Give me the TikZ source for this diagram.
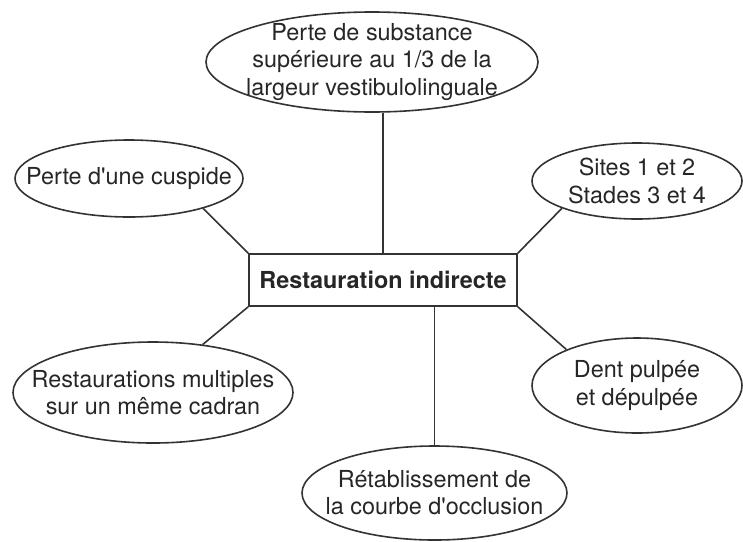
\documentclass[tikz,border=0pt]{standalone}
\usepackage{fontspec}
\setmainfont{TeX Gyre Heros}
\usepackage{xcolor}
\usetikzlibrary{shapes.geometric, positioning}

\begin{document}
\begin{tikzpicture}[x=0.5pt, y=-0.5pt,
  bulle/.style={draw=black!80, ellipse, line width=0.8pt, inner sep=0pt},
  texte/.style={align=center, text=black!85, inner sep=0pt, font=\fontsize{11.7}{13.6}\selectfont},
  lien/.style={draw=black!80, line width=0.8pt}]
\useasboundingbox (0,0) rectangle (743,541);

% Nodes
\node[draw=black!80, line width=0.8pt, rectangle, minimum width=134pt, minimum height=26pt, text=black!85, font=\fontsize{11.7}{13.6}\selectfont\bfseries] (resto) at (383,280) {Restauration indirecte};
\node[bulle, minimum width=166pt, minimum height=50pt, label={[texte]center:Perte de substance\\supérieure au 1/3 de la\\largeur vestibulolinguale}] (perte) at (372,62) {};
\node[bulle, minimum width=114pt, minimum height=38.5pt, label={[texte]center:Perte d\textquotesingle une cuspide}] (cuspide) at (129,178.5) {};
\node[bulle, minimum width=105pt, minimum height=38pt, label={[texte]center:Sites 1 et 2\\Stades 3 et 4}] (sites) at (637,181) {};
\node[bulle, minimum width=140pt, minimum height=50.5pt, label={[texte]center:Restaurations multiples\\sur un même cadran}] (cadran) at (153,392.5) {};
\node[bulle, minimum width=105pt, minimum height=47.5pt, label={[texte]center:Dent pulpée\\et dépulpée}] (dent) at (637,385.5) {};
\node[bulle, minimum width=132.5pt, minimum height=47pt, label={[texte]center:Rétablissement de\\la courbe d\textquotesingle occlusion}] (courbe) at (434.5,493) {};

% Lines
\draw[lien] (resto.north) -- (resto.north |- perte.south);
\draw[lien] (resto.south -| courbe.north) -- (courbe.north);
\draw[lien] (resto.north west) -- (cuspide.-22);
\draw[lien] (resto.north east) -- (sites.200);
\draw[lien] (resto.south west) -- (cadran.44);
\draw[lien] (resto.south east) -- (dent.153);
\end{tikzpicture}
\end{document}
